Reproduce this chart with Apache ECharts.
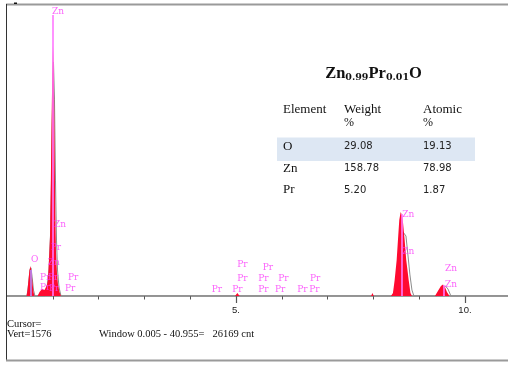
<!DOCTYPE html>
<html><head><meta charset="utf-8">
<script src="https://cdn.jsdelivr.net/npm/echarts@6/dist/echarts.min.js"></script>
<style>html,body{margin:0;padding:0;background:#fff;}#c{width:508px;height:365px;}</style>
</head><body><div id="c"></div>
<script>
// Measured spectrum (energy keV, counts) - red filled spectrum
const specE = [0,0.13,0.15,0.17,0.28,0.30,0.32,
  0.426,0.448,0.469,0.491,0.513,0.535,0.557,0.579,0.600,
  0.666,0.710,0.764,0.819,0.852,0.873,0.895,0.917,0.939,0.956,0.972,0.989,1.004,1.022,1.037,1.055,1.070,1.092,1.114,1.146,1.179,
  1.43,1.45,1.47,1.73,1.75,1.77,2.18,2.20,2.22,2.63,2.65,2.67,3.08,3.10,3.12,3.58,3.60,3.62,4.28,4.30,4.32,
  4.98,5.03,5.08,5.68,5.70,5.72,6.38,6.40,6.42,7.08,7.10,7.12,7.95,7.98,8.01,
  8.384,8.428,8.465,8.509,8.537,8.566,8.596,8.624,8.646,8.683,8.718,8.771,8.810,8.843,
  9.345,9.410,9.476,9.520,9.563,9.607,9.662,
  9.88,9.90,9.92,10.48,10.50,10.52,10.94];
const specC = [0,0,9,0,0,7,0,
  0,32,87,141,162,130,70,22,0,
  0,22,38,32,49,60,87,195,320,600,930,1200,1359,1220,880,440,235,120,62,22,0,
  0,8,0,0,7,0,0,8,0,0,7,0,0,8,0,0,7,0,0,7,0,
  0,16,0,0,7,0,0,7,0,0,7,0,0,16,0,
  0,16,87,195,303,412,455,439,401,303,195,87,16,0,
  0,27,54,62,49,22,0,
  0,8,0,0,7,0,0];
// Fitted / reference profile (grey outline)
const fitE = [0,0.437,0.469,0.502,0.524,0.546,0.579,0.611,
  0.830,0.873,0.917,0.950,0.972,0.993,1.015,1.037,1.059,1.081,1.103,1.135,1.179,
  8.428,8.493,8.548,8.603,8.646,8.675,8.712,8.755,8.799,8.843,8.886,
  9.389,9.454,9.520,9.574,9.629,9.694,10.94];
const fitC = [0,0,60,141,152,108,32,0,
  0,43,141,330,628,1007,1267,1062,628,303,141,49,0,
  0,60,168,276,347,357,325,222,114,32,0,
  0,22,43,54,38,0,0];
// Element marker lines (energy, height in counts)
const lineE = [0.513,1.004,8.614,9.541];
const lineTop = [141,1522,444,60];
const lineColor = ['#b48cff','#ff78ff','#ff78ff','#ff78ff'];
// Element labels (energy, height, text)
const labE = [0.983,1.026,0.954,0.889,0.524,0.721,0.895,1.332,0.721,0.917,1.266,
  4.469,4.919,5.028,5.028,5.487,5.487,5.583,5.924,5.852,6.338,6.616,6.600,
  8.631,8.631,9.563,9.563];
const labC = [1540,385,262,180,195,99,97,99,43,38,42,
  32,32,92,168,36,92,155,92,36,36,92,36,
  442,240,150,60];
const labT = ['Zn','Zn','Pr','Zn','O','Pr','Pr','Pr','Pr','Pr','Pr',
  'Pr','Pr','Pr','Pr','Pr','Pr','Pr','Pr','Pr','Pr','Pr','Pr',
  'Zn','Zn','Zn','Zn'];
// Axis
const xMin = 0, xMax = 10.94, yMax = 1576;
const minorTicks = [1,2,3,4,5,6,7,8,9,10];
const majorTicks = [5,10];
const tickLabels = {5:'5.', 10:'10.'};
// Table
const tableHead = ['Element','Weight','Atomic'];
const tableEl = ['O','Zn','Pr'];
const tableWeight = ['29.08','158.78','5.20'];
const tableAtomic = ['19.13','78.98','1.87'];
const infoLines = ['Cursor=','Vert=1576','Window 0.005 - 40.955=   26169 cnt'];

const chart = echarts.init(document.getElementById('c'), null, {renderer:'canvas'});
const serif = 'Liberation Serif';
const magenta = '#fa3cfa';

const graphics = [];
// frame
graphics.push({type:'line', shape:{x1:6,y1:4.5,x2:508,y2:4.5}, style:{stroke:'#9a9a9a', lineWidth:2}, z:100});
graphics.push({type:'line', shape:{x1:6.5,y1:4,x2:6.5,y2:361}, style:{stroke:'#333', lineWidth:1}, z:100});
graphics.push({type:'line', shape:{x1:6,y1:360.5,x2:508,y2:360.5}, style:{stroke:'#9a9a9a', lineWidth:2}, z:100});
graphics.push({type:'rect', shape:{x:14,y:2.5,width:3,height:1.5}, style:{fill:'#111'}, z:100});
// info texts
graphics.push({type:'text', x:7, y:324, style:{text:infoLines[0], font:'10.5px '+serif, fill:'#111', verticalAlign:'middle'}});
graphics.push({type:'text', x:7, y:334.5, style:{text:infoLines[1], font:'10.5px '+serif, fill:'#111', verticalAlign:'middle'}});
graphics.push({type:'text', x:99, y:334.5, style:{text:infoLines[2], font:'10.5px '+serif, fill:'#111', verticalAlign:'middle', whiteSpace:'pre'}});
// title
graphics.push({type:'text', x:373.5, y:82.5, style:{
  text:'{a|Zn}{b|0.99}{a|Pr}{b|0.01}{a|O}', align:'center', verticalAlign:'bottom',
  rich:{a:{font:'bold 16.5px '+serif, fill:'#111', verticalAlign:'bottom'},
        b:{font:'bold 9.5px "DejaVu Serif"', fill:'#111', verticalAlign:'bottom'}}}});
// table
const colX = [283, 344, 423];
graphics.push({type:'rect', shape:{x:277,y:137.5,width:198,height:23.5}, style:{fill:'#dde7f3'}});
tableHead.forEach((h,i)=>{
  graphics.push({type:'text', x:colX[i], y:109.5, style:{text:h, font:'13px '+serif, fill:'#111', verticalAlign:'middle'}});
  if(i>0) graphics.push({type:'text', x:colX[i], y:123, style:{text:'%', font:'12px '+serif, fill:'#111', verticalAlign:'middle'}});
});
const rowY = [146.5, 168.5, 190];
tableEl.forEach((el,i)=>{
  graphics.push({type:'text', x:colX[0], y:rowY[i], style:{text:el, font:'13px '+serif, fill:'#111', verticalAlign:'middle'}});
  graphics.push({type:'text', x:colX[1], y:rowY[i], style:{text:tableWeight[i], font:'10px "DejaVu Sans"', fill:'#222', verticalAlign:'middle'}});
  graphics.push({type:'text', x:colX[2], y:rowY[i], style:{text:tableAtomic[i], font:'10px "DejaVu Sans"', fill:'#222', verticalAlign:'middle'}});
});

const markData = lineE.map((e,i)=>[{coord:[e,0], lineStyle:{color:lineColor[i]}},{coord:[e,lineTop[i]]}]);

chart.setOption({
  animation:false,
  grid:{left:7, right:0, top:5, bottom:69, containLabel:false},
  xAxis:[
    {type:'value', min:xMin, max:xMax, interval:1, position:'bottom',
     axisLine:{show:true, lineStyle:{color:'#9a9a9a', width:2}},
     axisTick:{show:true, length:3.5, customValues:minorTicks, lineStyle:{color:'#555', width:1}},
     axisLabel:{show:false}, splitLine:{show:false}},
    {type:'value', min:xMin, max:xMax, interval:5, position:'bottom',
     axisLine:{show:false},
     axisTick:{show:true, length:7, customValues:majorTicks, lineStyle:{color:'#555', width:1.2}},
     axisLabel:{show:true, margin:9, customValues:majorTicks, fontFamily:'Liberation Sans', fontSize:9.5, color:'#222',
       formatter:v=>tickLabels[v]||''}, splitLine:{show:false}}
  ],
  yAxis:{type:'value', min:0, max:yMax, show:false},
  series:[
    {type:'line', name:'fit', xAxisIndex:0, data:fitE.map((e,i)=>[e,fitC[i]]), showSymbol:false, symbol:'none',
     lineStyle:{color:'#8c8c8c', width:1}, z:3, silent:true},
    {type:'line', name:'spectrum', xAxisIndex:0, data:specE.map((e,i)=>[e,specC[i]]), showSymbol:false, symbol:'none',
     lineStyle:{width:0, opacity:0}, areaStyle:{color:'#ff0a30', opacity:1}, z:4, silent:true,
     markLine:{symbol:'none', silent:true, label:{show:false}, lineStyle:{width:1.6, type:'solid', color:'#ff78ff'}, data:markData, z:5}},
    {type:'scatter', name:'labels', xAxisIndex:0, symbolSize:0.01, silent:true, z:6,
     data:labE.map((e,i)=>({value:[e,labC[i]], name:labT[i]})),
     label:{show:true, position:'right', distance:0, formatter:'{b}', color:magenta,
       fontFamily:'DejaVu Serif', fontSize:9, verticalAlign:'middle'}}
  ],
  graphic:graphics
});
</script></body></html>
